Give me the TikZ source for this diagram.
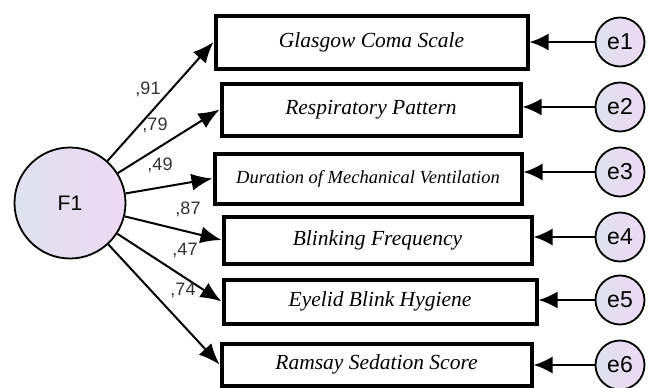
\documentclass[tikz,border=0pt]{standalone}
\usepackage{fontspec}
\setmainfont{Liberation Serif}
\newfontfamily\arialfont{Liberation Sans}
\usetikzlibrary{arrows.meta}
\definecolor{lavgray}{RGB}{222,226,238}
\definecolor{lavpink}{RGB}{237,217,243}
\tikzset{
    item/.style={draw, line width=4pt, inner sep=0pt, font=\fontsize{21.5}{24}\selectfont\itshape}, % observed variables
    factor/.style={circle, draw, line width=1.8pt, minimum size=111pt, inner sep=0pt, left color=lavgray, right color=lavpink, font=\fontsize{21}{24}\arialfont},
    err/.style={circle, draw, line width=1.8pt, minimum size=49pt, inner sep=0pt, left color=lavgray, right color=lavpink, font=\fontsize{23}{26}\arialfont},
    load/.style={font=\fontsize{18}{20}\arialfont, text=black!80}, % loading values
    loadarrow/.style={line width=2pt, -{Latex[length=21pt,width=17pt]}},
    errarrow/.style={line width=2pt, -{Latex[length=19pt,width=17pt]}},
    }

\begin{document}
\begin{tikzpicture}[x=1pt, y=-1pt]
\useasboundingbox (0,0) rectangle (654,388);

\node[factor] (F1) at (70,203) {F1};

\node[item, minimum width=312pt, minimum height=53pt] (v1) at (371.5,42) {Glasgow Coma Scale};
\node[item, minimum width=299pt, minimum height=52pt] (v2) at (371,109.5) {Respiratory Pattern};
\node[item, minimum width=307pt, minimum height=50pt, font=\fontsize{18.5}{20}\selectfont\itshape] (v3) at (368,178.5) {Duration of Mechanical Ventilation};
\node[item, minimum width=308pt, minimum height=47pt] (v4) at (377.5,240) {Blinking Frequency};
\node[item, minimum width=313pt, minimum height=44pt] (v5) at (380,301.5) {Eyelid Blink Hygiene};
\node[item, minimum width=310pt, minimum height=42pt] (v6) at (376.5,364.5) {Ramsay Sedation Score};

\node[err] (e1) at (620,42) {e1};
\node[err] (e2) at (620,107) {e2};
\node[err] (e3) at (620,172) {e3};
\node[err] (e4) at (620,237) {e4};
\node[err] (e5) at (620,300) {e5};
\node[err] (e6) at (620,365) {e6};

\foreach \i in {1,...,6}
    \draw[loadarrow] (F1) -- (v\i.west);
\foreach \i in {1,...,6}
    \draw[errarrow] (e\i) -- (e\i -| v\i.east);

\node[load] (w1) at (148,89) {,91};
\node[load] (w2) at (155,125) {,79};
\node[load] (w3) at (160,165) {,49};
\node[load] (w4) at (188,209) {,87};
\node[load] (w5) at (185,250) {,47};
\node[load] (w6) at (183,290) {,74};
\end{tikzpicture}
\end{document}
